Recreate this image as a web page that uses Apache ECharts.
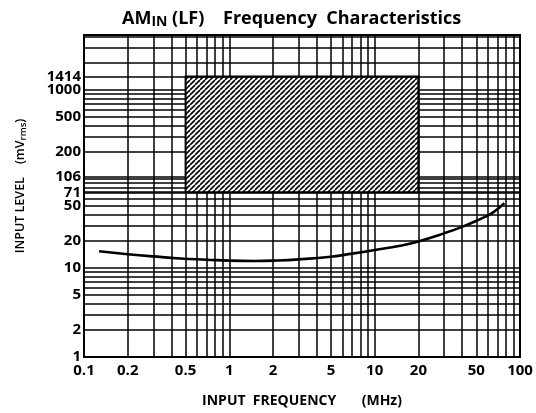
<!DOCTYPE html>
<html>
<head>
<meta charset="utf-8">
<script src="https://cdn.jsdelivr.net/npm/echarts@6/dist/echarts.min.js"></script>
<style>
  html, body { margin: 0; padding: 0; background: #fff; }
  #chart { width: 536px; height: 413px; }
</style>
</head>
<body>
<div id="chart"></div>
<script>
// curve: input frequency (MHz) vs minimum input level (mVrms)
const freqMHz = [0.127, 0.2, 0.3, 0.46, 0.7, 1, 1.5, 2, 3, 5, 7, 10, 15, 20, 30, 40, 50, 65, 78];
const levelMV = [15.4, 14.3, 13.5, 12.8, 12.4, 12.1, 12.0, 12.1, 12.5, 13.4, 14.5, 15.9, 17.8, 19.9, 24.5, 29, 33.9, 42, 53.5];

// hatched operating area
const areaFreq = [0.5, 20];
const areaLevel = [71, 1414];

// axis labels and grid lines
const xLabels = [0.1, 0.2, 0.5, 1, 2, 5, 10, 20, 50, 100];
const xGrid = [0.2, 0.3, 0.4, 0.5, 0.6, 0.7, 0.8, 0.9, 1, 2, 3, 4, 5, 6, 7, 8, 9, 10, 20, 30, 40, 50, 60, 70, 80, 90];
const yLabels = [1, 2, 5, 10, 20, 50, 71, 106, 200, 500, 1000];
const yExtraLabels = [1414]; // too close to 1000 for the axis, drawn as a mark line label
const yGrid = [2, 3, 4, 5, 6, 7, 8, 9, 10, 20, 30, 40, 50, 60, 70, 71, 80, 90, 100, 106,
  200, 300, 400, 500, 600, 700, 800, 900, 1000, 2000, 3000, 4000];

const chart = echarts.init(document.getElementById("chart"));

// diagonal hatch tile
function hatch() {
  const p = 5;
  const c = document.createElement("canvas");
  c.width = p; c.height = p;
  const ctx = c.getContext("2d");
  ctx.fillStyle = "#fff";
  ctx.fillRect(0, 0, p, p);
  ctx.strokeStyle = "#000";
  ctx.lineWidth = 1.6;
  for (let k = -1; k <= 1; k++) {
    ctx.beginPath();
    ctx.moveTo(k * p, p);
    ctx.lineTo(k * p + p, 0);
    ctx.stroke();
  }
  return c;
}

const font = "'Open Sans', sans-serif";
const fmt = v => String(+(+v).toPrecision(4));
const labelStyle = { fontFamily: font, fontWeight: "bold", fontSize: 15, color: "#000" };

const option = {
  animation: false,
  title: {
    text: "{a|AM}{b|IN}{a| (LF)    Frequency  Characteristics}",
    left: 117,
    top: 3,
    textStyle: {
      rich: {
        a: { fontFamily: font, fontWeight: "bold", fontSize: 18, color: "#000" },
        b: { fontFamily: font, fontWeight: "bold", fontSize: 14, color: "#000", padding: [7, 0, 0, 0] }
      }
    }
  },
  grid: {
    left: 84, right: 16, top: 35, bottom: 55,
    show: true, borderColor: "#000", borderWidth: 2
  },
  xAxis: {
    type: "log",
    logBase: 10,
    min: 0.1,
    max: 100,
    name: "INPUT  FREQUENCY       (MHz)",
    nameLocation: "middle",
    nameGap: 37,
    nameTextStyle: { fontFamily: font, fontWeight: "bold", fontSize: 14, color: "#000" },
    axisLine: { show: false },
    axisTick: { show: false, customValues: xGrid },
    axisLabel: Object.assign({ customValues: xLabels, formatter: fmt, margin: 6 }, labelStyle),
    splitLine: { show: true, lineStyle: { color: "#000", width: 1.5 } }
  },
  yAxis: {
    type: "log",
    logBase: 10,
    min: 1,
    max: 4150,
    name: "{n|INPUT LEVEL    (mV}{s|rms}{n|)}",
    nameLocation: "middle",
    nameGap: 56,
    nameTextStyle: {
      padding: [0, 0, 0, 20],
      rich: {
        n: { fontFamily: font, fontWeight: 600, fontSize: 12.5, color: "#000" },
        s: { fontFamily: font, fontWeight: 600, fontSize: 9.5, color: "#000", padding: [5, 0, 0, 0] }
      }
    },
    axisLine: { show: false },
    axisTick: { show: false, customValues: yGrid },
    axisLabel: Object.assign({ customValues: yLabels, formatter: fmt, margin: 3 }, labelStyle),
    splitLine: { show: true, lineStyle: { color: "#000", width: 1.5 } }
  },
  series: [
    {
      type: "line",
      data: freqMHz.map((f, i) => [f, levelMV[i]]),
      smooth: true,
      showSymbol: false,
      lineStyle: { color: "#000", width: 2.6 },
      z: 3,
      markLine: {
        silent: true,
        symbol: "none",
        lineStyle: { color: "#000", width: 1.5, type: "solid" },
        label: Object.assign({ position: "start", distance: 3, formatter: p => fmt(p.value) }, labelStyle),
        data: yExtraLabels.map(v => ({ yAxis: v }))
      },
      markArea: {
        silent: true,
        itemStyle: {
          color: { image: hatch(), repeat: "repeat" },
          borderColor: "#000",
          borderWidth: 2
        },
        data: [[{ coord: [areaFreq[0], areaLevel[1]] }, { coord: [areaFreq[1], areaLevel[0]] }]]
      }
    }
  ]
};

chart.setOption(option);
</script>
</body>
</html>
